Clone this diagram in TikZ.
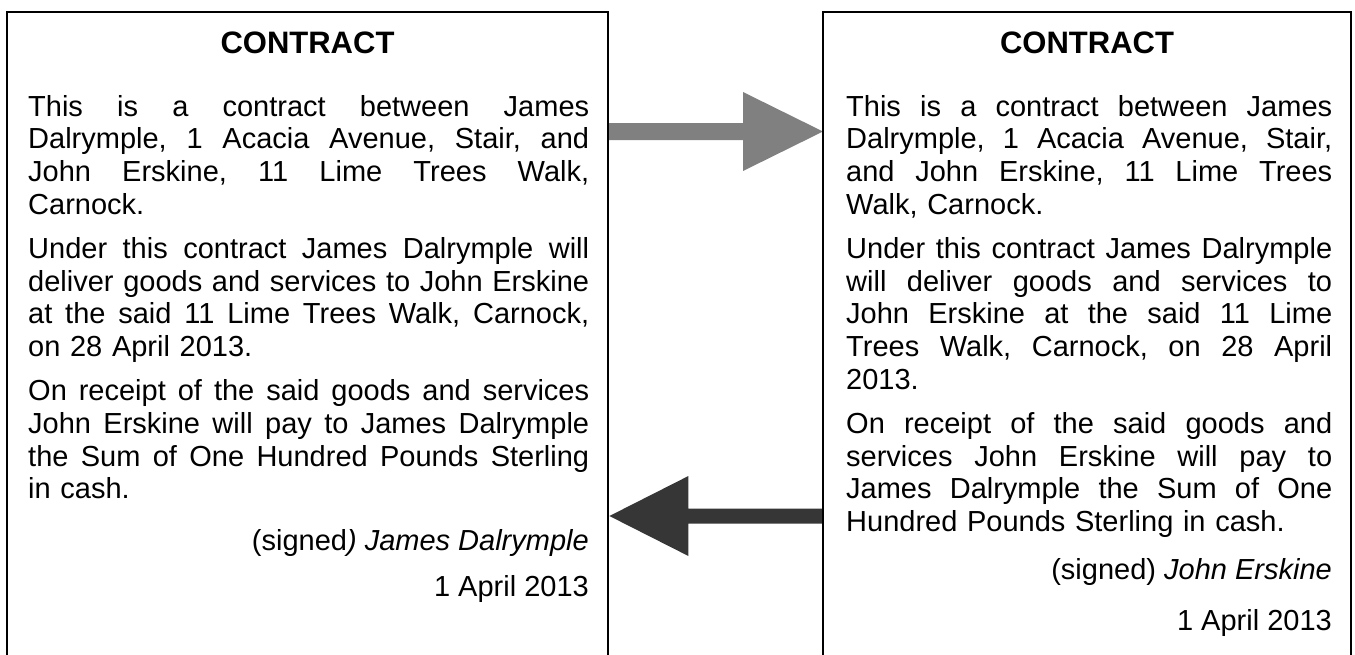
\documentclass[tikz,border=0pt]{standalone}
\usepackage{fontspec}
\setmainfont{Liberation Sans}
\usetikzlibrary{calc}
\definecolor{arrowgray}{HTML}{808080}
\definecolor{arrowdark}{HTML}{363636}
\newcommand\jline[2]{\makebox[#1][s]{\spaceskip=0pt\xspaceskip=0pt\frenchspacing\relax #2}}
\begin{document}
\begin{tikzpicture}[x=1pt,y=-1pt,
  boxframe/.style={line width=2pt, black},
  boxarea/.style={draw=none, inner sep=0pt, anchor=north west},
  bodytext/.style={inner sep=0pt, anchor=base west, align=left, font=\fontsize{29}{32.75}\selectfont},
  righttext/.style={inner sep=0pt, anchor=base east, font=\fontsize{29}{32.75}\selectfont},
  titletext/.style={inner sep=0pt, anchor=base, font=\fontsize{31}{34}\selectfont\bfseries}]
\useasboundingbox (0,0) rectangle (1355,654);

% box areas
\node (left)  [boxarea, minimum width=601pt, minimum height=660pt] at (7,12) {};
\node (right) [boxarea, minimum width=528pt, minimum height=660pt] at (823,12) {};

% arrows
\coordinate (a1s) at ($(left.north east)+(0,119.5)$);
\coordinate (a1e) at ($(right.north west)+(0,119.5)$);
\fill[arrowgray] ($(a1s)+(0,-8.5)$) -- ($(a1e)+(-80,-8.5)$) -- ($(a1e)+(-80,-39.5)$) -- (a1e)
  -- ($(a1e)+(-80,39.5)$) -- ($(a1e)+(-80,8.5)$) -- ($(a1s)+(0,8.5)$) -- cycle;

\coordinate (a2s) at ($(right.north west)+(0,504)$);
\coordinate (a2e) at ($(left.north east)+(1,504)$);
\fill[arrowdark] ($(a2s)+(0,-7.5)$) -- ($(a2e)+(79,-7.5)$) -- ($(a2e)+(79,-40)$) -- (a2e)
  -- ($(a2e)+(79,40)$) -- ($(a2e)+(79,7.5)$) -- ($(a2s)+(0,7.5)$) -- cycle;

% frames (open at the bottom)
\draw[boxframe] (left.south west) -- (left.north west) -- (left.north east) -- (left.south east);
\draw[boxframe] (right.south west) -- (right.north west) -- (right.north east) -- (right.south east);

% left contract
\node (lt) [titletext] at (307.5,53) {CONTRACT};
\node (lp1) [bodytext, text width=561pt] at (28,116) {%
\jline{561pt}{This is a contract between James}\\
\jline{561pt}{Dalrymple, 1 Acacia Avenue, Stair, and}\\
\jline{561pt}{John Erskine, 11 Lime Trees Walk,}\\
Carnock.};
\node (lp2) [bodytext, text width=561pt] at (28,258.25) {%
\jline{561pt}{Under this contract James Dalrymple will}\\
\jline{561pt}{deliver goods and services to John Erskine}\\
\jline{561pt}{at the said 11 Lime Trees Walk, Carnock,}\\
on 28 April 2013.};
\node (lp3) [bodytext, text width=561pt] at (28,400.5) {%
\jline{561pt}{On receipt of the said goods and services}\\
\jline{561pt}{John Erskine will pay to James Dalrymple}\\
\jline{561pt}{the Sum of One Hundred Pounds Sterling}\\
in cash.};
\node (ls) [righttext] at (589,550) {(signed\textit{) James Dalrymple}};
\node (ld) [righttext] at (589,596.5) {1 April 2013};

% right contract
\node (rt) [titletext] at (1087,53) {CONTRACT};
\node (rp1) [bodytext, text width=486pt] at (846,116) {%
\jline{486pt}{This is a contract between James}\\
\jline{486pt}{Dalrymple, 1 Acacia Avenue, Stair,}\\
\jline{486pt}{and John Erskine, 11 Lime Trees}\\
Walk, Carnock.};
\node (rp2) [bodytext, text width=486pt] at (846,258.25) {%
\jline{486pt}{Under this contract James Dalrymple}\\
\jline{486pt}{will deliver goods and services to}\\
\jline{486pt}{John Erskine at the said 11 Lime}\\
\jline{486pt}{Trees Walk, Carnock, on 28 April}\\
2013.};
\node (rp3) [bodytext, text width=486pt] at (846,433.25) {%
\jline{486pt}{On receipt of the said goods and}\\
\jline{486pt}{services John Erskine will pay to}\\
\jline{486pt}{James Dalrymple the Sum of One}\\
Hundred Pounds Sterling in cash.};
\node (rs) [righttext] at (1332,579) {(signed) \textit{John Erskine}};
\node (rd) [righttext] at (1332,630) {1 April 2013};
\end{tikzpicture}
\end{document}
